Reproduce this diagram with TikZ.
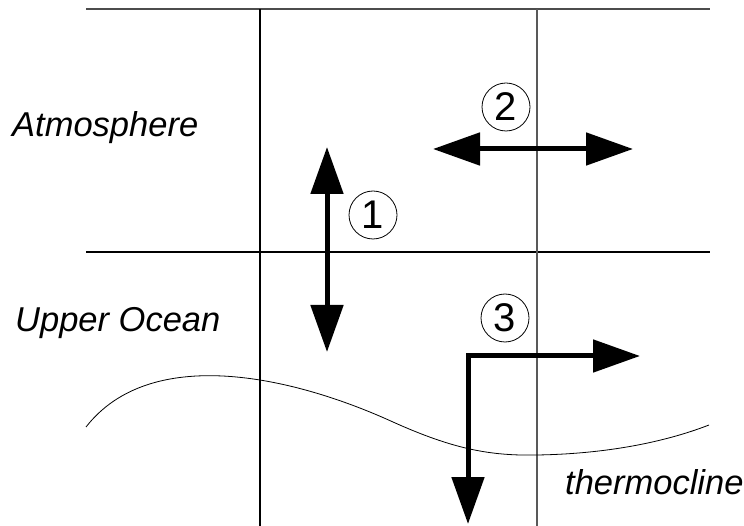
\documentclass[tikz,border=0pt]{standalone}
\usepackage{fontspec}
\setmainfont{Liberation Sans}
\usetikzlibrary{arrows.meta}

\newcommand*{\xmin}{86}
\newcommand*{\xmax}{710}
\newcommand*{\ytop}{9}
\newcommand*{\ybot}{526}

\begin{document}
\begin{tikzpicture}
[
	x=1pt,y=-1pt,
	gridline/.style={line width=1.2pt},
	layerlabel/.style={anchor=base west,inner sep=0pt,font=\fontsize{34.5}{40}\selectfont\itshape},
	numcirc/.style={circle,draw,line width=0.8pt,inner sep=0pt,minimum size=48pt,font=\fontsize{40}{44}\selectfont},
	flux/.style={line width=5pt,line join=miter},
	>={Triangle[length=47pt,width=32pt]}
]
	\useasboundingbox (0,0) rectangle (744,526);

	% grid
	\draw[gridline,black!70] (\xmin,\ytop) -- (\xmax,\ytop);
	\draw[gridline] (\xmin,252) -- (\xmax,252);
	\draw[gridline] (260,\ytop) -- (260,\ybot);
	\draw[gridline,black!65] (537,\ytop) -- (537,\ybot);

	% layer labels
	\node[layerlabel] (atm) at (12,137) {Atmosphere};
	\node[layerlabel] (ocn) at (15,332) {Upper Ocean};
	\node[layerlabel] (thc) at (565,494) {thermocline};

	% thermocline
	\draw[line width=0.8pt] (86,427) .. controls (150,345) and (290,375) .. (393,422)
		.. controls (453,449) and (490,456) .. (537,455)
		.. controls (600,454) and (660,444) .. (709,425);

	% fluxes
	\coordinate (up1) at (327,147);
	\coordinate (dn1) at (327,352);
	\coordinate (lt2) at (433,149);
	\coordinate (rt2) at (633,149);
	\coordinate (dn3) at (468,524);
	\coordinate (rt3) at (640,356);
	\draw[flux,<->] (up1) -- (dn1);
	\draw[flux,<->] (lt2) -- (rt2);
	\draw[flux,<->] (dn3) |- (rt3);

	% numbers
	\node[numcirc] (n1) at (373,215) {1};
	\node[numcirc] (n2) at (506,107) {2};
	\node[numcirc] (n3) at (505,318) {3};

\end{tikzpicture}
\end{document}
